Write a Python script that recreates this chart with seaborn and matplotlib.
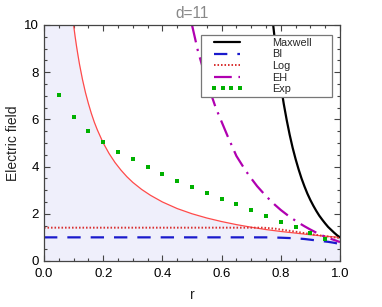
import numpy as np
import pandas as pd
import matplotlib
matplotlib.use("Agg")
import matplotlib.pyplot as plt
from matplotlib.patches import Rectangle
from matplotlib.ticker import MultipleLocator
import seaborn as sns

# curves (d=11)
maxwell_r = [0.765, 0.77, 0.775, 0.78, 0.785, 0.79, 0.80, 0.81, 0.82, 0.83, 0.84, 0.85, 0.86,
             0.87, 0.88, 0.89, 0.90, 0.91, 0.92, 0.93, 0.94, 0.95, 0.96, 0.97, 0.98, 0.99, 1.00]
maxwell_e = [11.15, 10.5, 9.92, 9.36, 8.84, 8.35, 7.45, 6.66, 5.97, 5.35, 4.80, 4.32, 3.89,
             3.50, 3.16, 2.85, 2.58, 2.34, 2.12, 1.92, 1.75, 1.59, 1.44, 1.32, 1.20, 1.09, 1.00]

bi_r = [0.0, 0.75, 0.80, 0.85, 0.88, 0.90, 0.92, 0.94, 0.96, 0.98, 1.00]
bi_e = [1.0, 1.0, 0.985, 0.96, 0.93, 0.90, 0.87, 0.84, 0.81, 0.77, 0.72]

log_r = [0.0, 0.74, 0.78, 0.80, 0.85, 0.90, 0.95, 1.00]
log_e = [1.41, 1.41, 1.37, 1.33, 1.24, 1.14, 1.05, 0.97]

# thin red bound curve, the region under it is shaded
bound_r = [0.09, 0.095, 0.10, 0.105, 0.11, 0.115, 0.12, 0.13, 0.14, 0.15, 0.16, 0.17, 0.18,
           0.20, 0.22, 0.24, 0.26, 0.28, 0.30, 0.33, 0.36, 0.40, 0.45, 0.50, 0.55, 0.60,
           0.65, 0.70, 0.75, 0.80, 0.85, 0.90, 0.95, 1.00]
bound_e = [11.11, 10.53, 10.0, 9.52, 9.09, 8.70, 8.33, 7.69, 7.14, 6.67, 6.25, 5.88, 5.56,
           5.0, 4.55, 4.17, 3.85, 3.57, 3.33, 3.03, 2.78, 2.5, 2.22, 2.0, 1.82, 1.67,
           1.54, 1.43, 1.33, 1.25, 1.18, 1.11, 1.05, 1.0]

eh_r = [0.50, 0.52, 0.55, 0.58, 0.60, 0.62, 0.65, 0.68, 0.70, 0.72, 0.75, 0.78, 0.80, 0.83,
        0.86, 0.88, 0.90, 0.92, 0.94, 0.96, 0.98, 1.00]
eh_e = [10.0, 8.9, 7.6, 6.5, 5.9, 5.3, 4.45, 3.85, 3.5, 3.17, 2.75, 2.38, 2.16, 1.87,
        1.62, 1.47, 1.33, 1.20, 1.08, 0.98, 0.89, 0.80]

exp_r = [0.05, 0.10, 0.15, 0.20, 0.25, 0.30, 0.35, 0.40, 0.45, 0.50, 0.55, 0.60, 0.65,
         0.70, 0.75, 0.80, 0.85, 0.90, 0.95]
exp_e = [7.02, 6.10, 5.51, 5.04, 4.63, 4.31, 3.97, 3.69, 3.40, 3.15, 2.89, 2.64, 2.42,
         2.15, 1.92, 1.67, 1.43, 1.19, 0.93]

sns.set_theme(style="ticks")
plt.rcParams["font.family"] = ["Liberation Sans", "DejaVu Sans"]

fig = plt.figure(figsize=(3.82, 3.07), dpi=100)
ax = fig.add_axes([0.1152, 0.150, 0.7748, 0.7686])

ymax = 10
fill_x = np.r_[0.0, bound_r]
fill_y = np.minimum(np.r_[ymax, bound_e], ymax)
ax.fill_between(fill_x, 0, fill_y, color="#efeffb", lw=0, zorder=0)

sns.lineplot(x=bound_r, y=bound_e, ax=ax, color="#ff4a4a", lw=0.9, sort=False)
sns.lineplot(x=maxwell_r, y=maxwell_e, ax=ax, color="black", lw=1.6, label="Maxwell", sort=False)
sns.lineplot(x=bi_r, y=bi_e, ax=ax, color="#1a1acc", lw=1.6, linestyle=(0, (6, 4.5)),
             label="BI", sort=False)
sns.lineplot(x=log_r, y=log_e, ax=ax, color="#d83030", lw=1.4, linestyle=(0, (0.8, 1.0)),
             label="Log", sort=False)
sns.lineplot(x=eh_r, y=eh_e, ax=ax, color="#b000b0", lw=1.6, linestyle=(0, (8, 3, 1, 3)),
             label="EH", sort=False)
sns.lineplot(x=exp_r, y=exp_e, ax=ax, color="#00b000", lw=0, marker="s", markersize=3.5,
             markeredgewidth=0, label="Exp", sort=False)

ax.set_xlim(0, 1)
ax.set_ylim(0, ymax)
ax.xaxis.set_major_locator(MultipleLocator(0.2))
ax.xaxis.set_minor_locator(MultipleLocator(0.05))
ax.yaxis.set_major_locator(MultipleLocator(2))
ax.yaxis.set_minor_locator(MultipleLocator(0.5))
ax.xaxis.set_major_formatter(matplotlib.ticker.FormatStrFormatter("%.1f"))
ax.tick_params(which="both", direction="in", top=True, right=True, colors="#444444",
               labelcolor="black", labelsize=9.5, width=0.8)
ax.tick_params(axis="x", which="major", pad=5)
ax.tick_params(which="major", length=4)
ax.tick_params(which="minor", length=2.5)
for s in ax.spines.values():
    s.set_color("#444444")
    s.set_linewidth(0.9)

ax.set_xlabel("r", fontsize=10, color="#222222", labelpad=6)
ax.set_ylabel("Electric field", fontsize=10, color="#222222", labelpad=3)
ax.set_title("d=11", fontsize=11.2, color="#888888", pad=5)

# legend box drawn separately so the padding matches the reference
ax.add_patch(Rectangle((0.529, 0.694), 0.443, 0.264, transform=ax.transAxes,
                       facecolor="white", edgecolor="#777777", lw=0.9, zorder=4.5))
handles, labels = ax.get_legend_handles_labels()
ax.legend(handles, labels, loc="upper left", bbox_to_anchor=(0.563, 0.945),
          frameon=False, borderpad=0, borderaxespad=0, fontsize=7.8, labelspacing=0.14,
          handlelength=3.0, handletextpad=2.7, numpoints=4)

fig.savefig("out.png", dpi=100)
